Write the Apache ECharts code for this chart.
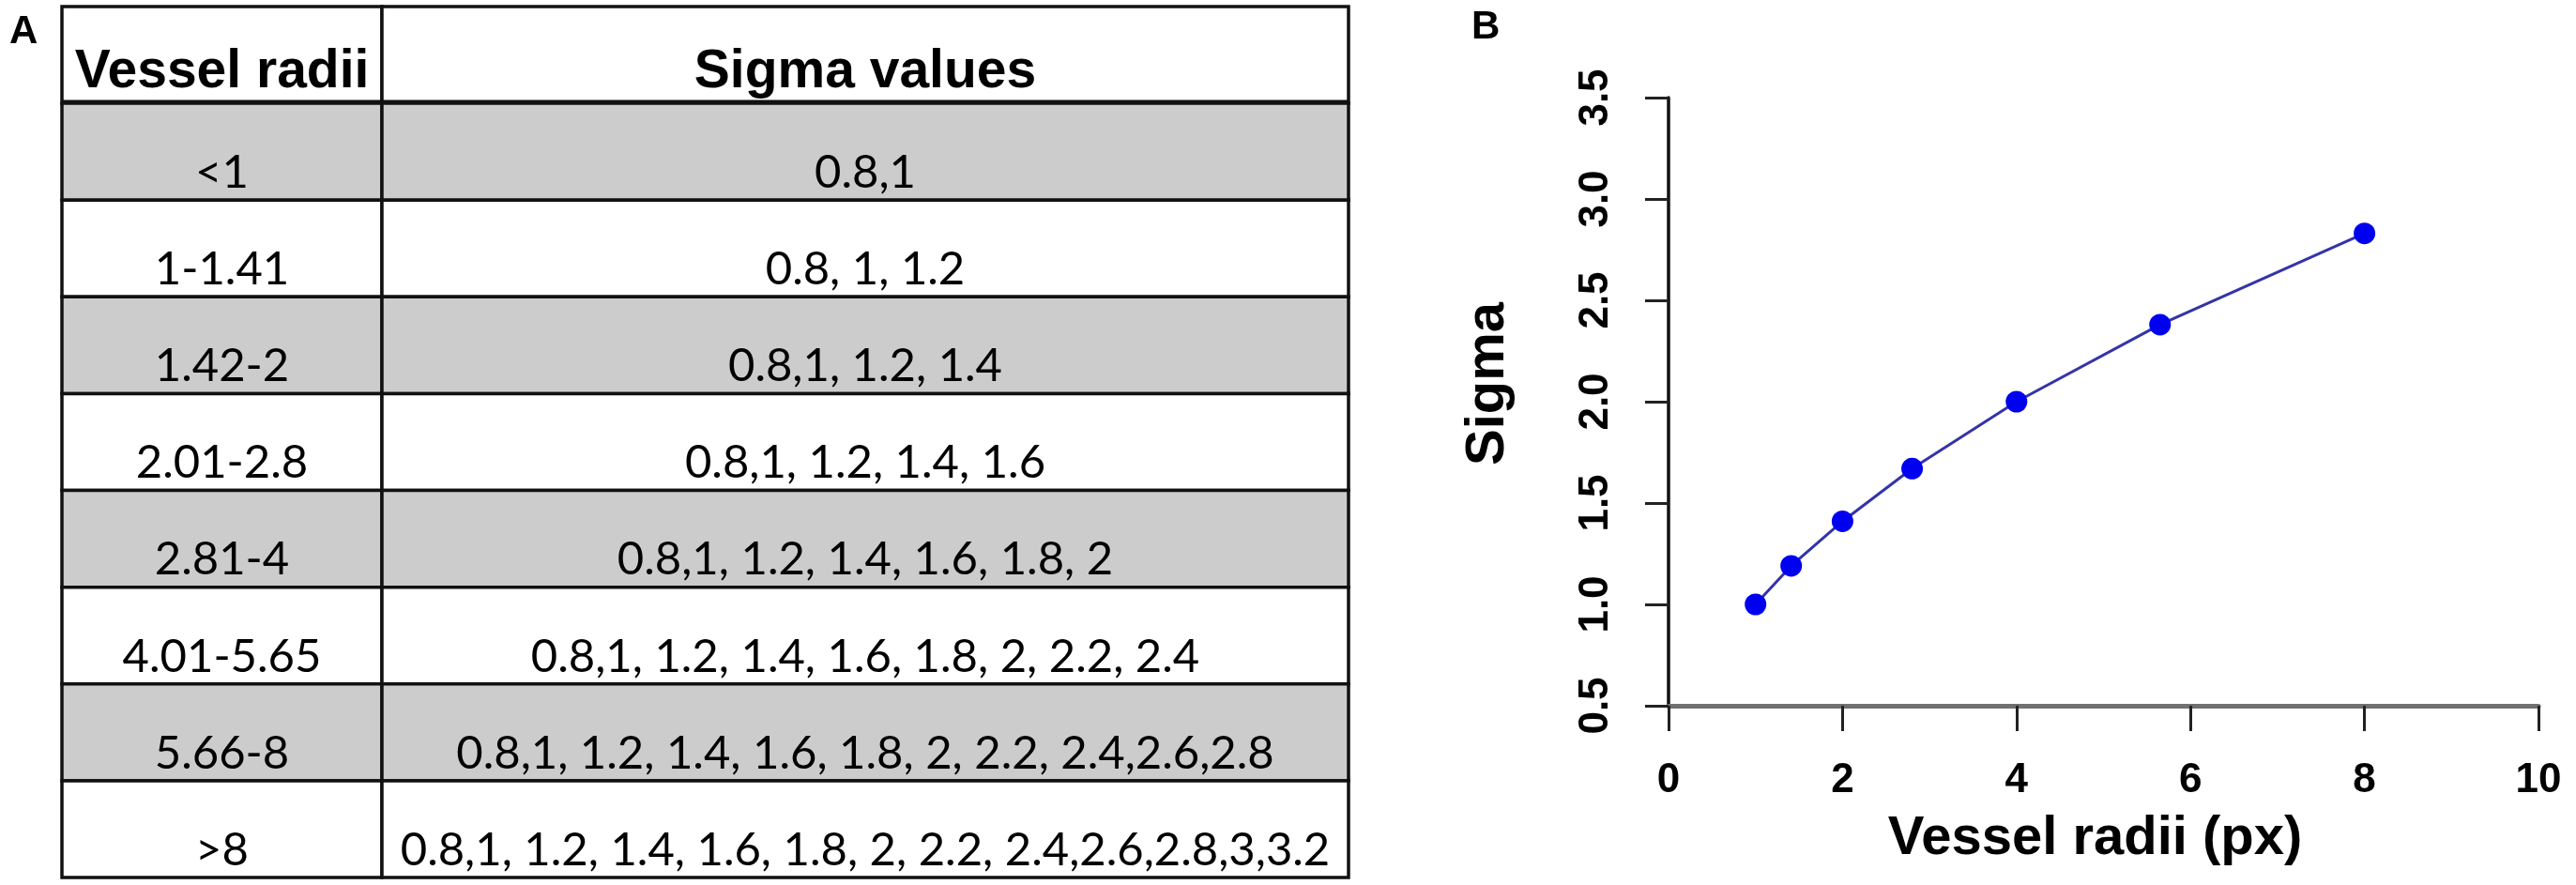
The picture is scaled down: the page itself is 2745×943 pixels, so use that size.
<!DOCTYPE html>
<html>
<head>
<meta charset="utf-8">
<title>Vessel radii / sigma</title>
<script src="https://cdn.jsdelivr.net/npm/echarts@6.0.0/dist/echarts.min.js"></script>
<style>
  html, body { margin: 0; padding: 0; background: #fff; }
  #main { width: 2745px; height: 943px; }
</style>
</head>
<body>
<div id="main"></div>
<script>
// table (panel A)
const headers = ['Vessel radii', 'Sigma values'];
const radiiRanges = ['<1', '1-1.41', '1.42-2', '2.01-2.8', '2.81-4', '4.01-5.65', '5.66-8', '>8'];
const sigmaSets = [
  '0.8,1',
  '0.8, 1, 1.2',
  '0.8,1, 1.2, 1.4',
  '0.8,1, 1.2, 1.4, 1.6',
  '0.8,1, 1.2, 1.4, 1.6, 1.8, 2',
  '0.8,1, 1.2, 1.4, 1.6, 1.8, 2, 2.2, 2.4',
  '0.8,1, 1.2, 1.4, 1.6, 1.8, 2, 2.2, 2.4,2.6,2.8',
  '0.8,1, 1.2, 1.4, 1.6, 1.8, 2, 2.2, 2.4,2.6,2.8,3,3.2'
];

// curve (panel B)
const radiiPx = [1, 1.41, 2, 2.8, 4, 5.65, 8];
const sigmaVals = [1, 1.19, 1.41, 1.67, 2, 2.38, 2.83];

const col1Texts = [headers[0]].concat(radiiRanges);
const col2Texts = [headers[1]].concat(sigmaSets);

const headFont = 'bold 57px "Liberation Sans", Arial, sans-serif';
const bodyFont = '49px Lato, "Open Sans", sans-serif';
const axisFont = { fontFamily: '"Liberation Sans", Arial, sans-serif', fontWeight: 'bold', color: '#000' };

// draws one table cell, text sits near the bottom like the original
function cellRenderer(texts) {
  return function (params, api) {
    const i = params.dataIndex;
    const c = api.coord([api.value(0), api.value(1)]);
    const s = api.size([1, 1]);
    const x0 = c[0] - s[0] / 2;
    const y0 = c[1] - s[1] / 2;
    const isHead = i === 0;
    const children = [{
      type: 'rect',
      shape: { x: x0, y: y0, width: s[0], height: s[1] },
      style: { fill: i % 2 === 1 ? '#cccccc' : '#ffffff', stroke: '#111', lineWidth: 3.5 }
    }];
    if (isHead) {
      children.push({
        type: 'line',
        shape: { x1: x0, y1: y0 + s[1], x2: x0 + s[0], y2: y0 + s[1] },
        style: { stroke: '#111', lineWidth: 7 }
      });
    }
    children.push({
      type: 'text',
      style: {
        text: texts[i],
        x: c[0],
        y: y0 + s[1] - (isHead ? 33 : 29),
        align: 'center',
        verticalAlign: 'middle',
        font: isHead ? headFont : bodyFont,
        fill: '#000'
      }
    });
    return { type: 'group', children: children };
  };
}

const chart = echarts.init(document.getElementById('main'), null, { renderer: 'canvas' });

chart.setOption({
  animation: false,
  backgroundColor: '#fff',
  title: [
    { text: 'A', left: 5, top: 8, textStyle: { fontSize: 42, fontWeight: 'bold', color: '#000', fontFamily: '"Liberation Sans", Arial' } },
    { text: 'B', left: 1563, top: 3, textStyle: { fontSize: 42, fontWeight: 'bold', color: '#000', fontFamily: '"Liberation Sans", Arial' } }
  ],
  grid: [
    { left: 1778, top: 104, width: 927, height: 648, outerBoundsMode: 'none' },
    { left: 66, top: 7, width: 341, height: 928, outerBoundsMode: 'none' },
    { left: 407, top: 7, width: 1030, height: 928, outerBoundsMode: 'none' }
  ],
  xAxis: [
    {
      gridIndex: 0,
      type: 'value',
      min: 0,
      max: 10,
      interval: 2,
      name: 'Vessel radii (px)',
      nameLocation: 'middle',
      nameGap: 113,
      nameTextStyle: Object.assign({ fontSize: 58, padding: [0, 18, 0, 0] }, axisFont),
      axisLine: { onZero: false, lineStyle: { color: '#707070', width: 5 } },
      axisTick: { length: 27, lineStyle: { color: '#222', width: 3 } },
      axisLabel: Object.assign({ fontSize: 44, margin: 58 }, axisFont),
      splitLine: { show: false }
    },
    { gridIndex: 1, type: 'category', data: ['c1'], show: false },
    { gridIndex: 2, type: 'category', data: ['c2'], show: false }
  ],
  yAxis: [
    {
      gridIndex: 0,
      type: 'value',
      min: 0.5,
      max: 3.5,
      interval: 0.5,
      name: 'Sigma',
      nameLocation: 'middle',
      nameGap: 163,
      nameTextStyle: Object.assign({ fontSize: 58, padding: [0, 0, 0, 38] }, axisFont),
      axisLine: { show: true, onZero: false, lineStyle: { color: '#111', width: 3.5 } },
      axisTick: { show: true, length: 25, lineStyle: { color: '#222', width: 3 } },
      axisLabel: Object.assign({
        fontSize: 44,
        rotate: 90,
        margin: 55,
        formatter: function (v) { return v.toFixed(1); }
      }, axisFont),
      splitLine: { show: false }
    },
    { gridIndex: 1, type: 'category', data: col1Texts, inverse: true, show: false },
    { gridIndex: 2, type: 'category', data: col2Texts, inverse: true, show: false }
  ],
  series: [
    {
      type: 'custom',
      xAxisIndex: 1,
      yAxisIndex: 1,
      silent: true,
      data: col1Texts.map(function (t, i) { return [0, i]; }),
      renderItem: cellRenderer(col1Texts)
    },
    {
      type: 'custom',
      xAxisIndex: 2,
      yAxisIndex: 2,
      silent: true,
      data: col2Texts.map(function (t, i) { return [0, i]; }),
      renderItem: cellRenderer(col2Texts)
    },
    {
      type: 'line',
      xAxisIndex: 0,
      yAxisIndex: 0,
      data: radiiPx.map(function (x, i) { return [x, sigmaVals[i]]; }),
      symbol: 'circle',
      symbolSize: 23,
      lineStyle: { color: '#3434a8', width: 3 },
      itemStyle: { color: '#0000f0' }
    }
  ]
});
</script>
</body>
</html>
